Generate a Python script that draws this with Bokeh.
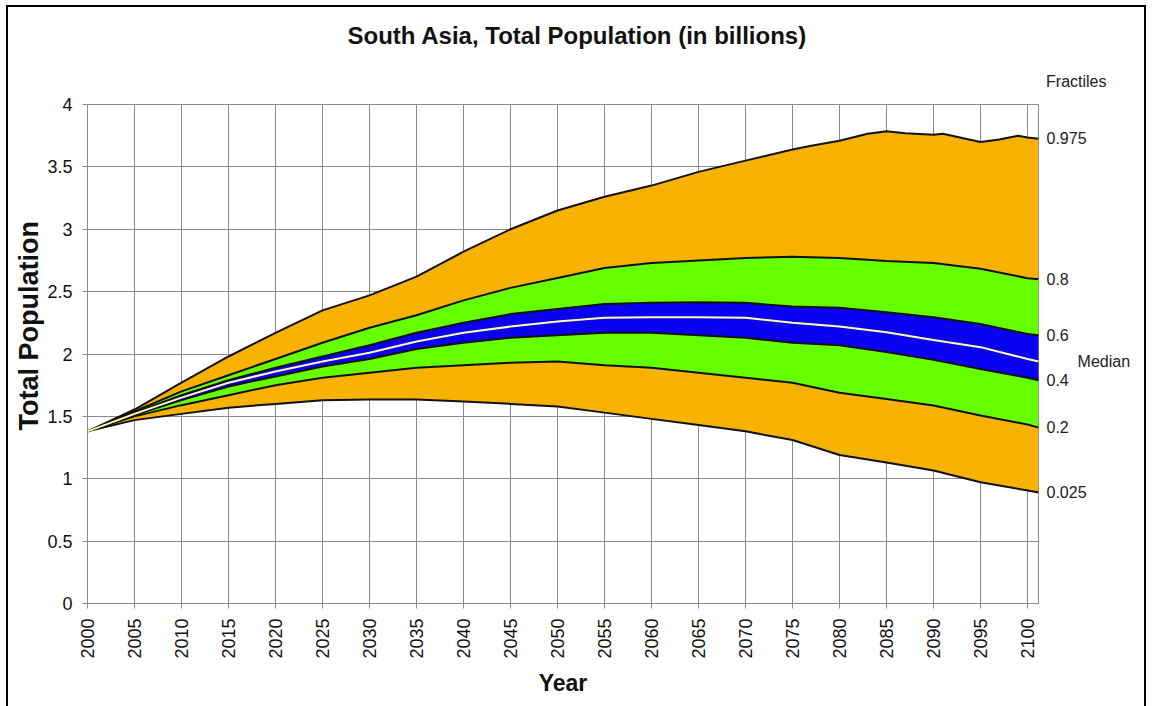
import math
from bokeh.plotting import figure
from bokeh.models import (Range1d, FixedTicker, NumeralTickFormatter, LinearAxis,
                          CustomJSTickFormatter, Title)
from bokeh.embed import file_html
from bokeh.resources import INLINE

# ---- data (billions) ----
years = [2000, 2005, 2010, 2015, 2020, 2025, 2030, 2035, 2040, 2045, 2050,
         2055, 2060, 2065, 2070, 2075, 2080, 2085, 2090, 2095, 2100, 2101.2]
q025 = [1.38, 1.47, 1.52, 1.57, 1.60, 1.63, 1.635, 1.635, 1.62, 1.60, 1.58,
        1.53, 1.48, 1.43, 1.38, 1.31, 1.19, 1.13, 1.066, 0.972, 0.906, 0.89]
q20 = [1.38, 1.50, 1.59, 1.67, 1.75, 1.81, 1.85, 1.89, 1.91, 1.93, 1.94,
       1.91, 1.89, 1.85, 1.81, 1.77, 1.69, 1.64, 1.587, 1.507, 1.435, 1.41]
q40 = [1.38, 1.51, 1.63, 1.74, 1.82, 1.90, 1.96, 2.04, 2.09, 2.13, 2.15,
       2.17, 2.17, 2.15, 2.13, 2.09, 2.07, 2.015, 1.953, 1.88, 1.81, 1.79]
median = [1.38, 1.52, 1.65, 1.77, 1.86, 1.94, 2.01, 2.10, 2.17, 2.22, 2.26,
          2.29, 2.295, 2.295, 2.29, 2.25, 2.22, 2.175, 2.113, 2.055, 1.96, 1.94]
q60 = [1.38, 1.53, 1.67, 1.79, 1.89, 1.98, 2.07, 2.17, 2.25, 2.32, 2.36,
       2.40, 2.41, 2.415, 2.41, 2.38, 2.37, 2.335, 2.295, 2.24, 2.16, 2.15]
q80 = [1.38, 1.54, 1.70, 1.83, 1.96, 2.09, 2.21, 2.31, 2.43, 2.53, 2.61,
       2.69, 2.73, 2.75, 2.77, 2.78, 2.77, 2.745, 2.73, 2.683, 2.608, 2.60]
top_years = [2000, 2005, 2010, 2015, 2020, 2025, 2030, 2035, 2040, 2045, 2050,
             2055, 2060, 2065, 2070, 2075, 2077, 2080, 2083, 2085, 2087, 2090,
             2091, 2095, 2097, 2099, 2100, 2101.2]
q975 = [1.38, 1.555, 1.77, 1.98, 2.17, 2.35, 2.47, 2.62, 2.82, 3.00, 3.15,
        3.26, 3.35, 3.46, 3.55, 3.64, 3.67, 3.71, 3.765, 3.786, 3.77, 3.757,
        3.765, 3.70, 3.72, 3.75, 3.735, 3.725]

x_ticks = list(range(2000, 2101, 5))
y_ticks = [0, 0.5, 1, 1.5, 2, 2.5, 3, 3.5, 4]
fractile_labels = ["0.975", "0.8", "0.6", "0.4", "0.2", "0.025"]
median_label = "Median"
title_text = "South Asia, Total Population (in billions)"

ORANGE = "#F7B100"
GREEN = "#66FF00"
BLUE = "#0A00F2"
GRID = "#8a8a8a"
FONT = "Liberation Sans"
TXT = "#111111"

p = figure(width=1140, height=706, output_backend="svg", toolbar_location=None,
           x_range=Range1d(2000, 2101.17), y_range=Range1d(0, 4),
           min_border_left=79, min_border_right=110, min_border_top=97,
           min_border_bottom=110)
p.title.visible = False
p.styles = {"margin-left": "6px", "margin-top": "5px", "border": "2px solid black"}
p.border_fill_color = None
p.background_fill_color = "white"
p.outline_line_color = GRID
p.outline_line_width = 1

# bands
p.varea(x=years, y1=q025, y2=q20, fill_color=ORANGE)
p.varea(x=years, y1=q20, y2=q40, fill_color=GREEN)
p.varea(x=years, y1=q40, y2=q60, fill_color=BLUE)
p.varea(x=years, y1=q60, y2=q80, fill_color=GREEN)
p.patch(x=top_years + years[::-1], y=q975 + q80[::-1], fill_color=ORANGE, line_color=None)

for ys in (q025, q20, q40, q60, q80):
    p.line(years, ys, line_color="#111111", line_width=2)
p.line(top_years, q975, line_color="#111111", line_width=2)
p.line(years, median, line_color="#FFFFA8", line_width=2)

# axes & grid
for ax in (p.xaxis[0], p.yaxis[0]):
    ax.axis_line_color = GRID
    ax.major_tick_line_color = GRID
    ax.major_tick_out = 5
    ax.major_tick_in = 0
    ax.minor_tick_line_color = None
    ax.major_label_standoff = 10
    ax.major_label_text_font = FONT
    ax.major_label_text_font_size = "18px"
    ax.major_label_text_color = TXT
p.xaxis.ticker = FixedTicker(ticks=x_ticks)
p.xaxis.major_label_orientation = math.pi / 2
p.yaxis.ticker = FixedTicker(ticks=y_ticks)
p.yaxis.formatter = NumeralTickFormatter(format="0.[0]")
p.xgrid.ticker = FixedTicker(ticks=x_ticks)
p.ygrid.ticker = FixedTicker(ticks=y_ticks)
p.grid.grid_line_color = GRID
p.grid.grid_line_width = 1
p.grid.grid_line_alpha = 1

p.xaxis.axis_label = "Year"
p.xaxis.axis_label_text_font = FONT
p.xaxis.axis_label_text_font_size = "23px"
p.xaxis.axis_label_text_font_style = "bold"
p.xaxis.axis_label_text_color = TXT
p.xaxis.axis_label_standoff = 8

# right-side fractile labels via an extra axis
ends = [q975[-1], q80[-1], q60[-1], median[-1], q40[-1], q20[-1], q025[-1]]
texts = [fractile_labels[0], fractile_labels[1], fractile_labels[2],
         "\u00a0" * 7 + median_label, fractile_labels[3], fractile_labels[4],
         fractile_labels[5]]
rax = LinearAxis(ticker=FixedTicker(ticks=ends),
                 formatter=CustomJSTickFormatter(args=dict(vals=ends, txts=texts), code="""
const i = vals.findIndex(v => Math.abs(v - tick) < 1e-9);
return i >= 0 ? txts[i] : '';
"""))
rax.axis_line_color = None
rax.major_tick_line_color = None
rax.minor_tick_line_color = None
rax.major_tick_out = 0
rax.major_tick_in = 0
rax.major_label_standoff = 8
rax.major_label_text_font = FONT
rax.major_label_text_font_size = "16px"
rax.major_label_text_color = "#222222"
p.add_layout(rax, "right")

# titles
p.add_layout(Title(text="Fractiles", align="right", offset=-68, standoff=29,
                   text_font=FONT, text_font_size="16px", text_font_style="normal",
                   text_color="#222222"), "above")
p.add_layout(Title(text=title_text, align="left", offset=260, standoff=15,
                   text_font=FONT, text_font_size="24px", text_font_style="bold",
                   text_color=TXT), "above")
p.add_layout(Title(text="Total Population", align="left", offset=173, standoff=2,
                   text_font=FONT, text_font_size="27px", text_font_style="bold",
                   text_color=TXT), "left")

open("out.html", "w").write(file_html(p, INLINE))
